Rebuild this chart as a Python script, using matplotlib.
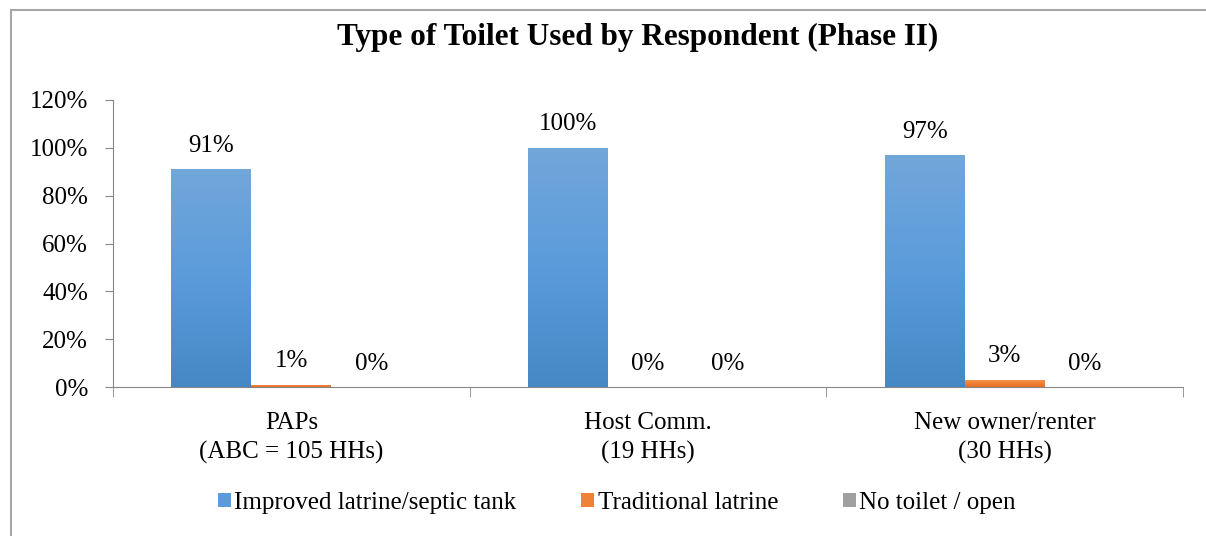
import numpy as np
import matplotlib.pyplot as plt
from matplotlib.patches import Rectangle
from matplotlib.colors import LinearSegmentedColormap

# Chart data
categories = ["PAPs\n(ABC = 105 HHs)", "Host Comm.\n(19 HHs)", "New owner/renter\n(30 HHs)"]
series_names = ["Improved latrine/septic tank", "Traditional latrine", "No toilet / open"]
improved = [91, 100, 97]
traditional = [1, 0, 3]
no_toilet = [0, 0, 0]
series_values = [improved, traditional, no_toilet]

# gradient colours (top, middle, bottom) for each series
grad_colours = [("#71a7da", "#5b9bdb", "#4687c6"), ("#f59a5c", "#ef8236", "#e86e22"),
                ("#b4b4b4", "#a0a0a0", "#8c8c8c")]

plt.rcParams["font.family"] = ["Liberation Serif", "DejaVu Serif"]
FS = 18

fig = plt.figure(figsize=(12.06, 5.36), dpi=100)
ax = fig.add_axes([113/1206, 1 - 387/536, 1070/1206, 287/536])

# outer chart border
fig.patches.append(Rectangle((10.5/1206, -0.1), 1.2, 1 - 9.5/536 + 0.1, transform=fig.transFigure,
                             fill=False, edgecolor="#a6a6a6", linewidth=1.5))

x = np.arange(len(categories))
width = 0.224

for i in range(len(series_names)):
    offs = (i - 1) * width
    cmap = LinearSegmentedColormap.from_list("g" + str(i), [grad_colours[i][2], grad_colours[i][1], grad_colours[i][0]])
    bars = ax.bar(x + offs, series_values[i], width, color=grad_colours[i][1], label=series_names[i],
                  linewidth=0)
    for b in bars:
        h = b.get_height()
        if h > 0:
            grad = np.linspace(0, 1, 256).reshape(-1, 1)
            im = ax.imshow(grad, cmap=cmap, origin="lower", aspect="auto",
                           extent=[b.get_x(), b.get_x() + b.get_width(), 0, h], zorder=2)
            im.set_clip_path(b)
        ax.annotate(f"{h:.0f}%", (b.get_x() + b.get_width() / 2, h), xytext=(0, 9),
                    textcoords="offset points", ha="center", va="bottom", fontsize=FS)

ax.set_xlim(-0.5, 2.5)
ax.set_ylim(0, 120)
ax.set_yticks(np.arange(0, 121, 20))
ax.set_yticklabels([f"{v}%" for v in range(0, 121, 20)], fontsize=FS)
ax.set_xticks(x)
ax.set_xticklabels(categories, fontsize=FS, linespacing=1.4)
ax.tick_params(axis="x", length=0, pad=18)
ax.set_xticks([-0.5, 0.5, 1.5, 2.5], minor=True)
ax.tick_params(axis="x", which="minor", length=7, color="#868686")
ax.tick_params(axis="y", length=6, color="#868686", pad=12)

for s in ["top", "right"]:
    ax.spines[s].set_visible(False)
for s in ["left", "bottom"]:
    ax.spines[s].set_color("#868686")

fig.text(638/1206, 1 - 37/536, "Type of Toilet Used by Respondent (Phase II)", ha="center", va="center",
         fontsize=22.5, weight="bold")

handles, labels = ax.get_legend_handles_labels()
leg = fig.legend(handles, labels, loc="center", bbox_to_anchor=(617/1206, 1 - 503/536), ncol=3,
                 frameon=False, fontsize=FS, handlelength=0.5, handleheight=0.5, handletextpad=0.15,
                 columnspacing=2.6)
for i, p in enumerate(leg.legend_handles):
    p.set_facecolor(grad_colours[i][1])

fig.savefig("out.png", dpi=100)
